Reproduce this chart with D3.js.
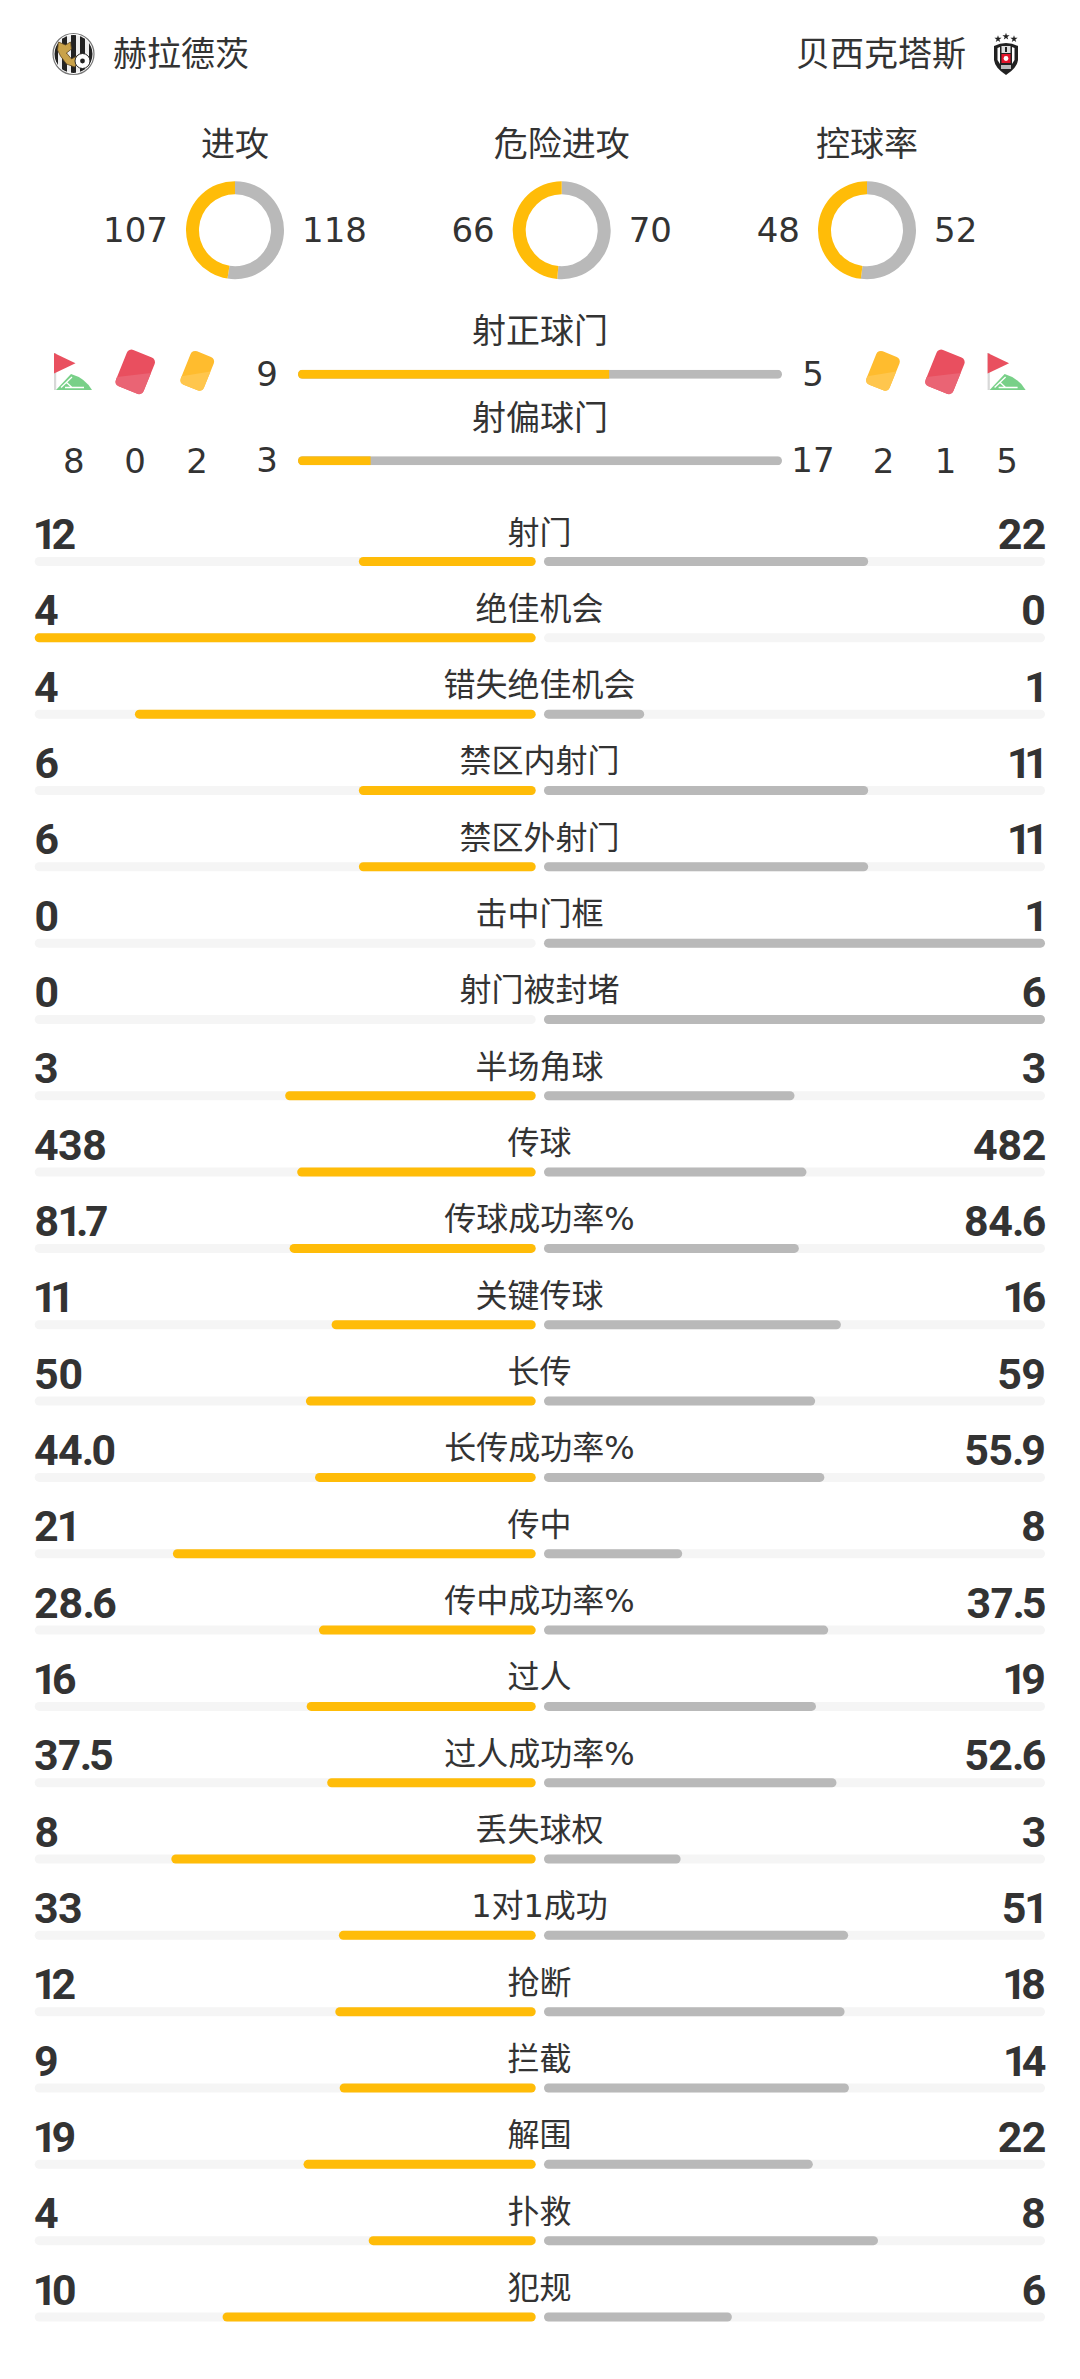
<!DOCTYPE html>
<html>
<head>
<meta charset="utf-8">
<script src="https://cdn.jsdelivr.net/npm/d3@7"></script>
<style>
  html, body { margin: 0; padding: 0; background: #fff; }
  svg { display: block; }
  text { fill: #333; font-family: "DejaVu Sans", "Noto Sans CJK SC", sans-serif; }
  .title { font-size: 34px; }
  .num { font-size: 34px; }
  .stat-label { font-size: 32px; text-anchor: middle; }
  .stat-num { font-family: Roboto, sans-serif; font-weight: 700; font-size: 43px; letter-spacing: -0.8px;
    font-variant-numeric: proportional-nums; font-feature-settings: "pnum" 1; }
</style>
</head>
<body>
<svg id="chart" width="1080" height="2379"></svg>
<script>
const homeTeam = "赫拉德茨";
const awayTeam = "贝西克塔斯";

const ringLabels = ["进攻", "危险进攻", "控球率"];
const ringHome = [107, 66, 48];
const ringAway = [118, 70, 52];

const shotLabels = ["射正球门", "射偏球门"];
const shotHome = [9, 3];
const shotAway = [5, 17];

// corners, red cards, yellow cards
const homeEvents = [8, 0, 2];
const awayEvents = [2, 1, 5];

const statLabels = ["射门", "绝佳机会", "错失绝佳机会", "禁区内射门", "禁区外射门", "击中门框", "射门被封堵", "半场角球",
  "传球", "传球成功率%", "关键传球", "长传", "长传成功率%", "传中", "传中成功率%", "过人", "过人成功率%", "丢失球权",
  "1对1成功", "抢断", "拦截", "解围", "扑救", "犯规"];
const statHome = ["12", "4", "4", "6", "6", "0", "0", "3", "438", "81.7", "11", "50", "44.0", "21", "28.6", "16", "37.5", "8", "33", "12", "9", "19", "4", "10"];
const statAway = ["22", "0", "1", "11", "11", "1", "6", "3", "482", "84.6", "16", "59", "55.9", "8", "37.5", "19", "52.6", "3", "51", "18", "14", "22", "8", "6"];

const YELLOW = "#ffbc08";
const GREY = "#b9b9b9";
const TRACK = "#f5f5f5";

const svg = d3.select("#chart");

function addText(parent, x, y, str, cls, anchor) {
  return parent.append("text")
    .attr("x", x).attr("y", y)
    .attr("class", cls)
    .attr("text-anchor", anchor || "middle")
    .text(str);
}

// Bold numbers: the original font sets "1" and "." tighter than Roboto
function addStatNum(x, y, str, anchor) {
  const t = addText(svg, x, y, "", "stat-num", anchor);
  str.split("").forEach((ch, i) => {
    const prev = str[i - 1];
    t.append("tspan")
      .attr("dx", prev === "1" || prev === "." ? -2.5 : 0)
      .text(ch);
  });
}

// Header: crests and team names
function drawHomeCrest(cx, cy) {
  const g = svg.append("g").attr("transform", `translate(${cx},${cy})`);
  svg.append("clipPath").attr("id", "crest-clip").append("circle").attr("r", 19);
  g.append("circle").attr("r", 20.5).attr("fill", "#fff").attr("stroke", "#777").attr("stroke-width", 1.2);
  const stripes = g.append("g").attr("clip-path", "url(#crest-clip)");
  stripes.append("circle").attr("r", 19).attr("fill", "#eee");
  d3.range(-18, 19, 9).forEach(x => {
    stripes.append("rect").attr("x", x - 2.5).attr("y", -20).attr("width", 5).attr("height", 40).attr("fill", "#222");
  });
  g.append("path")
    .attr("d", "M-15,-12 L-8,-9 L-3,-12 L-2,-5 L-7,-1 L-2,5 L7,0 L9,4 L1,13 L-7,10 L-13,2 L-16,-4 Z")
    .attr("fill", "#c9a24a").attr("stroke", "#5a4420").attr("stroke-width", 0.8);
  g.append("circle").attr("cx", 9).attr("cy", 7).attr("r", 7.5).attr("fill", "#fff").attr("stroke", "#222").attr("stroke-width", 1);
  g.append("circle").attr("cx", 9).attr("cy", 7).attr("r", 2.4).attr("fill", "#222");
}

function drawAwayCrest(cx, cy) {
  const g = svg.append("g").attr("transform", `translate(${cx},${cy})`);
  const star = d3.symbol().type(d3.symbolStar).size(16);
  [[-8, -16], [0, -18.5], [8, -16]].forEach(p => {
    g.append("path").attr("d", star()).attr("transform", `translate(${p[0]},${p[1]})`).attr("fill", "#222");
  });
  g.append("path")
    .attr("d", "M-12,-9 Q-6,-12 0,-12 Q6,-12 12,-9 L12,5 Q11,13 0,20 Q-11,13 -12,5 Z")
    .attr("fill", "#222");
  g.append("path").attr("d", "M-8.5,-7 L-6,-8 L-6,9 L-8.5,5 Z M6,-8 L8.5,-7 L8.5,5 L6,9 Z").attr("fill", "#fff");
  g.append("rect").attr("x", -4.5).attr("y", -1).attr("width", 9).attr("height", 9).attr("fill", "#e3152b");
  g.append("circle").attr("cx", 0).attr("cy", 3.5).attr("r", 2.4).attr("fill", "#fff");
  g.append("rect").attr("x", -4.5).attr("y", -9).attr("width", 9).attr("height", 7).attr("fill", "#ddd");
  g.append("rect").attr("x", -1).attr("y", -8).attr("width", 2).attr("height", 5).attr("fill", "#222");
  g.append("rect").attr("x", -5).attr("y", 10).attr("width", 10).attr("height", 4).attr("fill", "#bbb");
}

drawHomeCrest(73.5, 54);
drawAwayCrest(1006, 55);
addText(svg, 113, 66, homeTeam, "title", "start");
addText(svg, 966, 66, awayTeam, "title", "end");

// Ring charts
const ringX = d3.scaleOrdinal().domain(ringLabels).range([235, 561.7, 867]);
const ringY = 230.2;
const ringArc = d3.arc().innerRadius(36).outerRadius(49);
const ringPie = d3.pie().sort(null).value(d => d.value);

ringLabels.forEach((label, i) => {
  const cx = ringX(label);
  addText(svg, cx, 156, label, "title");
  const g = svg.append("g").attr("transform", `translate(${cx},${ringY})`);
  g.selectAll("path")
    .data(ringPie([{ value: ringAway[i], color: GREY }, { value: ringHome[i], color: YELLOW }]))
    .join("path")
    .attr("d", ringArc)
    .attr("fill", d => d.data.color);
  addText(svg, cx - 67, ringY + 12, ringHome[i], "num", "end");
  addText(svg, cx + 67, ringY + 12, ringAway[i], "num", "start");
});

// Shots on / off target bars
const shotX = d3.scaleLinear().domain([0, 1]).range([298, 782]);
const shotRows = d3.scalePoint().domain(shotLabels).range([374.3, 460.7]);
const shotBarHeight = 9;

shotLabels.forEach((label, i) => {
  const y = shotRows(label);
  const clipId = `shot-clip-${i}`;
  svg.append("clipPath").attr("id", clipId).append("rect")
    .attr("x", shotX(0)).attr("y", y - shotBarHeight / 2)
    .attr("width", shotX(1) - shotX(0)).attr("height", shotBarHeight)
    .attr("rx", shotBarHeight / 2);
  const bar = svg.append("g").attr("clip-path", `url(#${clipId})`);
  const share = shotHome[i] / (shotHome[i] + shotAway[i]);
  bar.append("rect").attr("x", shotX(0)).attr("y", y - shotBarHeight / 2)
    .attr("width", shotX(1) - shotX(0)).attr("height", shotBarHeight).attr("fill", GREY);
  bar.append("rect").attr("x", shotX(0)).attr("y", y - shotBarHeight / 2)
    .attr("width", shotX(share) - shotX(0)).attr("height", shotBarHeight).attr("fill", YELLOW);
  addText(svg, 540, y - 31, label, "title");
  addText(svg, 267, y + 11.5, shotHome[i], "num");
  addText(svg, 813, y + 11.5, shotAway[i], "num");
});

// Corner flag and card icons
function drawFlag(x, y) {
  const g = svg.append("g").attr("transform", `translate(${x},${y})`);
  g.append("rect").attr("x", 0).attr("y", 0).attr("width", 2.2).attr("height", 37).attr("fill", "#d8d8d8");
  g.append("path").attr("d", "M0,0 L21.5,10.3 L0,20.5 Z").attr("fill", "#e9505f");
  g.append("path").attr("d", "M2,37 L38,37 Q31,25 17,21 Z").attr("fill", "#78d088");
  g.append("path").attr("d", "M7,34.5 L18,24 M11,34.5 L30,34.5 M12,29 L18,34.5")
    .attr("stroke", "#fff").attr("stroke-width", 1.3).attr("fill", "none");
}

function drawCard(cx, cy, w, h, dark, light) {
  const r = 5;
  const g = svg.append("g").attr("transform", `translate(${cx},${cy}) rotate(22)`);
  g.append("rect").attr("x", -w / 2).attr("y", -h / 2).attr("width", w).attr("height", h).attr("rx", r).attr("fill", dark);
  g.append("path")
    .attr("d", `M${w / 2},${-h * 0.12} L${w / 2},${h / 2 - r} Q${w / 2},${h / 2} ${w / 2 - r},${h / 2} L${-w / 2 + r},${h / 2} Q${-w / 2},${h / 2} ${-w / 2},${h / 2 - r} L${-w / 2},${h * 0.3} Z`)
    .attr("fill", light);
}

drawFlag(54, 353);
drawCard(135.3, 371.8, 30, 39, "#e94f5f", "#ea6474");
drawCard(197.3, 370.8, 25, 36, "#ffbc2e", "#ffc64d");
drawCard(883, 370.8, 25, 36, "#ffbc2e", "#ffc64d");
drawCard(945, 371.8, 30, 39, "#e94f5f", "#ea6474");
drawFlag(987.6, 353);

const eventX = d3.scaleOrdinal().domain([0, 1, 2]).range([73.7, 135, 197]);
const eventXRight = d3.scaleOrdinal().domain([0, 1, 2]).range([883.5, 945.5, 1007]);
homeEvents.forEach((v, i) => addText(svg, eventX(i), 472.5, v, "num"));
awayEvents.forEach((v, i) => addText(svg, eventXRight(i), 472.5, v, "num"));

// Stat rows
const rowY = d3.scaleLinear().domain([0, statLabels.length - 1]).range([561.5, 2317]);
const barW = d3.scaleLinear().domain([0, 1]).range([0, 501]);
const barH = 9;
const leftEnd = 535.7;
const rightStart = 544;

statLabels.forEach((label, i) => {
  const y = rowY(i);
  const home = +statHome[i];
  const away = +statAway[i];
  const total = home + away;
  const full = barW(1);

  svg.append("rect").attr("x", leftEnd - full).attr("y", y - barH / 2).attr("width", full).attr("height", barH).attr("rx", 4.5).attr("fill", TRACK);
  svg.append("rect").attr("x", rightStart).attr("y", y - barH / 2).attr("width", full).attr("height", barH).attr("rx", 4.5).attr("fill", TRACK);

  if (home > 0) {
    svg.append("rect").attr("x", leftEnd - barW(home / total)).attr("y", y - barH / 2)
      .attr("width", barW(home / total)).attr("height", barH).attr("rx", 4.5).attr("fill", YELLOW);
  }
  if (away > 0) {
    svg.append("rect").attr("x", rightStart).attr("y", y - barH / 2)
      .attr("width", barW(away / total)).attr("height", barH).attr("rx", 4.5).attr("fill", GREY);
  }

  addText(svg, 539.5, y - 18, label, "stat-label");
  addStatNum(34, y - 12.5, statHome[i], "start");
  addStatNum(1045.5, y - 12.5, statAway[i], "end");
});
</script>
</body>
</html>
